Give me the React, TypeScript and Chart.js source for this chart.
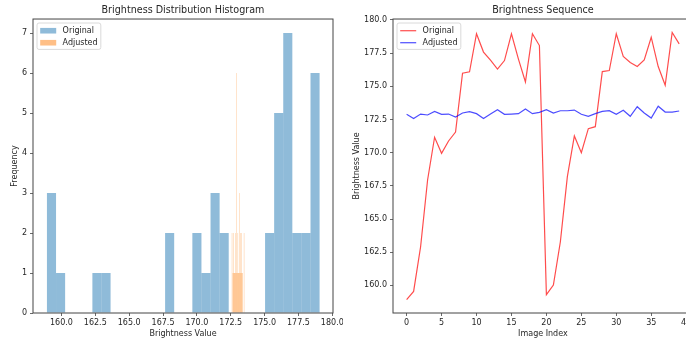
import React, { useEffect, useRef } from 'react';
import { Chart, registerables } from 'chart.js';

Chart.register(...registerables);

const FONT = '"DejaVu Sans", "Liberation Sans", sans-serif';
const TEXT_COLOR = '#262626';

// ---------- data ----------
const HIST_TITLE = 'Brightness Distribution Histogram';
const SEQ_TITLE = 'Brightness Sequence';
const SERIES_LABELS = ['Original', 'Adjusted'];
const HIST_X_LABEL = 'Brightness Value';
const HIST_Y_LABEL = 'Frequency';
const SEQ_X_LABEL = 'Image Index';
const SEQ_Y_LABEL = 'Brightness Value';

// histogram (30 bins each)
const ORIGINAL_HIST_RANGE = [158.93, 179.06];
const ORIGINAL_HIST_COUNTS = [3, 1, 0, 0, 0, 1, 1, 0, 0, 0, 0, 0, 0, 2, 0, 0, 2, 1, 3, 2, 0, 0, 0, 0, 2, 5, 7, 2, 2, 6];
const ADJUSTED_HIST_RANGE = [172.58, 173.5];
const ADJUSTED_HIST_COUNTS = [2, 0, 1, 1, 2, 1, 1, 1, 2, 1, 1, 6, 1, 1, 2, 1, 1, 1, 3, 1, 1, 2, 1, 2, 1, 1, 0, 0, 0, 2];

const HIST_X_TICKS = [160, 162.5, 165, 167.5, 170, 172.5, 175, 177.5, 180];
const HIST_Y_TICKS = [0, 1, 2, 3, 4, 5, 6, 7];

// sequence
const ORIGINAL_SEQ = [
  158.93, 159.55, 162.91, 167.94, 171.16, 169.95, 170.88, 171.55, 175.99, 176.09,
  178.96, 177.58, 176.97, 176.3, 176.94, 178.96, 177.05, 175.33, 178.96, 178.07,
  159.3, 160.02, 163.29, 168.2, 171.26, 170.0, 171.81, 171.96, 176.11, 176.19,
  178.96, 177.25, 176.79, 176.49, 176.98, 178.7, 176.49, 175.08, 179.06, 178.2,
];
const ADJUSTED_SEQ = [
  172.89, 172.58, 172.91, 172.84, 173.11, 172.89, 172.91, 172.69, 172.99, 173.09,
  172.94, 172.58, 172.91, 173.24, 172.89, 172.91, 172.94, 173.29, 172.94, 173.04,
  173.24, 172.99, 173.16, 173.16, 173.21, 172.89, 172.74, 172.94, 173.11, 173.16,
  172.89, 173.19, 172.74, 173.46, 172.99, 172.61, 173.5, 173.06, 173.06, 173.14,
];
const SEQ_X_TICKS = [0, 5, 10, 15, 20, 25, 30, 35, 40];
const SEQ_Y_TICKS = [160, 162.5, 165, 167.5, 170, 172.5, 175, 177.5, 180];

// ---------- helpers ----------
function histPoints(range: number[], counts: number[]) {
  const w = (range[1] - range[0]) / counts.length;
  return counts.map((c, i) => ({ x: range[0] + (i + 0.5) * w, y: c }));
}

const mplDecor = {
  id: 'mplDecor',
  afterDraw(chart: any, _args: any, opts: any) {
    const { ctx, chartArea } = chart;
    ctx.save();
    // frame (spines)
    ctx.strokeStyle = '#444';
    ctx.lineWidth = 1;
    ctx.strokeRect(chartArea.left, chartArea.top, chartArea.right - chartArea.left, chartArea.bottom - chartArea.top);

    // legend
    const fs = 8;
    ctx.font = `${fs}px ${FONT}`;
    const items = chart.data.datasets.map((d: any) => ({ label: d.label, color: d.legendColor }));
    const textW = Math.max(...items.map((it: any) => ctx.measureText(it.label).width));
    const pad = 0.4 * fs, hl = 2 * fs, htp = 0.8 * fs, ls = 0.5 * fs;
    const w = pad + hl + htp + textW + pad;
    const h = pad * 2 + items.length * fs + (items.length - 1) * ls;
    const x = chartArea.left + 4;
    const y = chartArea.top + 4;
    const r = 2;
    ctx.beginPath();
    ctx.moveTo(x + r, y);
    ctx.lineTo(x + w - r, y);
    ctx.quadraticCurveTo(x + w, y, x + w, y + r);
    ctx.lineTo(x + w, y + h - r);
    ctx.quadraticCurveTo(x + w, y + h, x + w - r, y + h);
    ctx.lineTo(x + r, y + h);
    ctx.quadraticCurveTo(x, y + h, x, y + h - r);
    ctx.lineTo(x, y + r);
    ctx.quadraticCurveTo(x, y, x + r, y);
    ctx.closePath();
    ctx.fillStyle = 'rgba(255,255,255,0.8)';
    ctx.fill();
    ctx.strokeStyle = '#d0d0d0';
    ctx.lineWidth = 0.8;
    ctx.stroke();

    items.forEach((it: any, k: number) => {
      const cy = y + pad + fs / 2 + k * (fs + ls);
      const hx = x + pad;
      if (opts.handle === 'patch') {
        ctx.fillStyle = it.color;
        ctx.fillRect(hx, cy - 0.35 * fs + 0.5, hl, 0.7 * fs);
      } else {
        ctx.strokeStyle = it.color;
        ctx.lineWidth = 1.2;
        ctx.beginPath();
        ctx.moveTo(hx, cy + 0.5);
        ctx.lineTo(hx + hl, cy + 0.5);
        ctx.stroke();
      }
      ctx.fillStyle = TEXT_COLOR;
      ctx.textBaseline = 'middle';
      ctx.textAlign = 'left';
      ctx.fillText(it.label, hx + hl + htp, cy + 0.5);
    });
    ctx.restore();
  },
};

function axisCommon(ticks: number[], fmt: (v: number) => string, size: number, horizontal: boolean, title: string, titlePad: any) {
  return {
    type: 'linear',
    offset: false,
    border: { display: false },
    grid: { display: true, drawOnChartArea: false, drawTicks: true, tickLength: 3, tickColor: '#444', tickWidth: 0.8, offset: false },
    ticks: {
      autoSkip: false,
      maxRotation: 0,
      minRotation: 0,
      includeBounds: false,
      padding: horizontal ? 2 : 3,
      color: TEXT_COLOR,
      font: { family: FONT, size: 8 },
      callback: (v: any) => fmt(Number(v)),
    },
    title: { display: true, text: title, color: TEXT_COLOR, font: { family: FONT, size: 8 }, padding: titlePad },
    afterBuildTicks: (s: any) => {
      s.ticks = ticks.map((v) => ({ value: v }));
    },
    afterFit: (s: any) => {
      if (horizontal) s.height = size;
      else s.width = size;
      s.paddingLeft = 0;
      s.paddingRight = 0;
      s.paddingTop = 0;
      s.paddingBottom = 0;
    },
  };
}

function titleOpts(text: string) {
  return {
    display: true,
    fullSize: false,
    text,
    color: TEXT_COLOR,
    font: { family: FONT, size: 9.6, weight: 'normal' },
    padding: { top: 5, bottom: 2.5 },
  };
}

function HistChart() {
  const ref = useRef<HTMLCanvasElement>(null);
  useEffect(() => {
    const xAxis: any = axisCommon(HIST_X_TICKS, (v) => v.toFixed(1), 33, true, HIST_X_LABEL, { top: 0, bottom: 7.2 });
    xAxis.min = 157.9;
    xAxis.max = 180.05;
    const yAxis: any = axisCommon(HIST_Y_TICKS, (v) => String(v), 33, false, HIST_Y_LABEL, { top: 10.5, bottom: 0 });
    yAxis.min = 0;
    yAxis.max = 7.35;
    const chart = new Chart(ref.current as HTMLCanvasElement, {
      type: 'bar',
      data: {
        datasets: [
          {
            label: SERIES_LABELS[0],
            data: histPoints(ORIGINAL_HIST_RANGE, ORIGINAL_HIST_COUNTS),
            xAxisID: 'x',
            yAxisID: 'y',
            backgroundColor: 'rgba(31,119,180,0.5)',
            legendColor: 'rgba(31,119,180,0.5)',
            barPercentage: 1,
            categoryPercentage: 1,
            grouped: false,
            inflateAmount: 0,
            borderWidth: 0,
            order: 2,
          } as any,
          {
            label: SERIES_LABELS[1],
            data: histPoints(ADJUSTED_HIST_RANGE, ADJUSTED_HIST_COUNTS),
            xAxisID: 'x2',
            yAxisID: 'y',
            backgroundColor: 'rgba(255,127,14,0.5)',
            legendColor: 'rgba(255,127,14,0.5)',
            barPercentage: 1,
            categoryPercentage: 1,
            grouped: false,
            inflateAmount: 0,
            borderWidth: 0,
            order: 1,
          } as any,
        ],
      },
      options: {
        responsive: false,
        animation: false,
        devicePixelRatio: 1,
        layout: { padding: { left: 0, right: 10, top: 0, bottom: 0 } },
        plugins: {
          legend: { display: false },
          tooltip: { enabled: false },
          title: titleOpts(HIST_TITLE) as any,
          mplDecor: { handle: 'patch' },
        } as any,
        scales: {
          x: xAxis,
          x2: { type: 'linear', display: false, min: 157.9, max: 180.05, offset: false, grid: { offset: false } } as any,
          y: yAxis,
        },
      },
      plugins: [mplDecor],
    });
    return () => chart.destroy();
  }, []);
  return <canvas ref={ref} width={343} height={346} style={{ display: 'block' }} />;
}

function SeqChart() {
  const ref = useRef<HTMLCanvasElement>(null);
  useEffect(() => {
    const xAxis: any = axisCommon(SEQ_X_TICKS, (v) => String(v), 33, true, SEQ_X_LABEL, { top: 0, bottom: 7.2 });
    xAxis.min = -1.95;
    xAxis.max = 40.95;
    const yAxis: any = axisCommon(SEQ_Y_TICKS, (v) => v.toFixed(1), 50, false, SEQ_Y_LABEL, { top: 8.9, bottom: 0 });
    yAxis.min = 157.92;
    yAxis.max = 180.07;
    const chart = new Chart(ref.current as HTMLCanvasElement, {
      type: 'line',
      data: {
        datasets: [
          {
            label: SERIES_LABELS[0],
            data: ORIGINAL_SEQ.map((v, i) => ({ x: i, y: v })),
            borderColor: 'rgba(255,0,0,0.7)',
            legendColor: 'rgba(255,0,0,0.7)',
            borderWidth: 1.2,
            pointRadius: 0,
            tension: 0,
            fill: false,
            order: 2,
          } as any,
          {
            label: SERIES_LABELS[1],
            data: ADJUSTED_SEQ.map((v, i) => ({ x: i, y: v })),
            borderColor: 'rgba(0,0,255,0.7)',
            legendColor: 'rgba(0,0,255,0.7)',
            borderWidth: 1.2,
            pointRadius: 0,
            tension: 0,
            fill: false,
            order: 1,
          } as any,
        ],
      },
      options: {
        responsive: false,
        animation: false,
        devicePixelRatio: 1,
        layout: { padding: { left: 0, right: 7.2, top: 0, bottom: 0 } },
        plugins: {
          legend: { display: false },
          tooltip: { enabled: false },
          title: titleOpts(SEQ_TITLE) as any,
          mplDecor: { handle: 'line' },
        } as any,
        scales: { x: xAxis, y: yAxis },
      },
      plugins: [mplDecor],
    });
    return () => chart.destroy();
  }, []);
  return <canvas ref={ref} width={357} height={346} style={{ display: 'block' }} />;
}

export default function App() {
  return (
    <div style={{ position: 'fixed', left: 0, top: 0, width: 686, height: 346, overflow: 'hidden', background: '#fff' }}>
      <div style={{ position: 'absolute', left: 0, top: 0 }}>
        <HistChart />
      </div>
      <div style={{ position: 'absolute', left: 343, top: 0 }}>
        <SeqChart />
      </div>
    </div>
  );
}
